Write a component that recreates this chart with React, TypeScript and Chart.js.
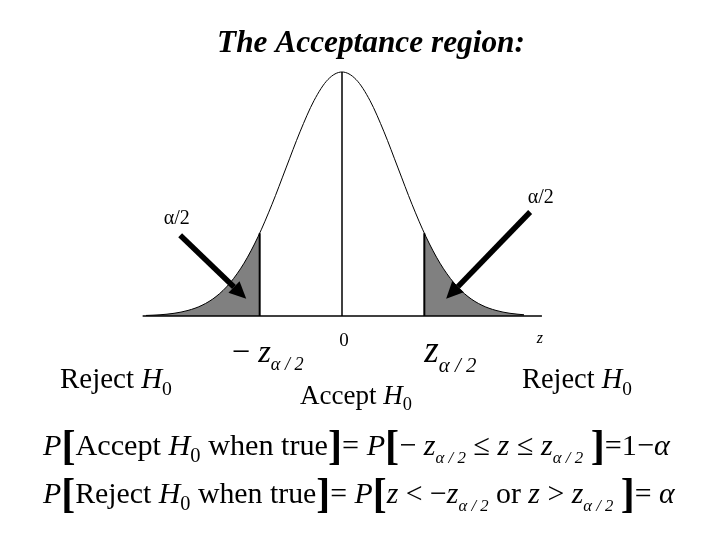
import React, { useEffect, useRef } from "react";
import { Chart, registerables } from "chart.js";
Chart.register(...registerables);

// Standard normal curve, read at z steps of 0.25
const zGrid = [-3.5, -3.25, -3, -2.75, -2.5, -2.25, -2, -1.75, -1.5, -1.25, -1, -0.75, -0.5, -0.25, 0, 0.25, 0.5, 0.75, 1, 1.25, 1.5, 1.75, 2, 2.25, 2.5, 2.75, 3, 3.25];
const density = [0.0009, 0.002, 0.0044, 0.0091, 0.0175, 0.0317, 0.054, 0.0863, 0.1295, 0.1826, 0.242, 0.3011, 0.3521, 0.3867, 0.3989, 0.3867, 0.3521, 0.3011, 0.242, 0.1826, 0.1295, 0.0863, 0.054, 0.0317, 0.0175, 0.0091, 0.0044, 0.002];
const criticalZ = 1.47;
const criticalDensity = 0.1354;
const peakDensity = 0.3989;
const axisStart = -3.56;
const axisEnd = 3.57;

// arrows [fromX, fromY, toX, toY] in data units
const leftArrow = [-2.89, 0.132, -1.71, 0.028];
const rightArrow = [3.36, 0.17, 1.86, 0.028];
const leftAlphaPos = [-2.95, 0.162];
const rightAlphaPos = [3.55, 0.196];

const TITLE = "The Acceptance region:";
type Seg = [string, string];
const alphaHalf: Seg[] = [["α/2", "n"]];
const rejectLabel: Seg[] = [["Reject ", "n"], ["H", "i"], ["0", "sub"]];
const acceptLabel: Seg[] = [["Accept ", "n"], ["H", "i"], ["0", "sub"]];
const negCrit: Seg[] = [["− ", "n"], ["z", "i"], ["α / 2", "subi"]];
const posCrit: Seg[] = [["z", "i"], ["α / 2", "subi"]];
const eq1: Seg[] = [["P", "i"], ["[", "br"], ["Accept ", "n"], ["H", "i"], ["0", "sub"], [" when true", "n"], ["]", "br"], ["= ", "n"], ["P", "i"], ["[", "br"], ["− ", "n"], ["z", "i"], ["α / 2", "subi"], [" ≤ ", "n"], ["z", "i"], [" ≤ ", "n"], ["z", "i"], ["α / 2", "subi"], [" ", "n"], ["]", "br"], ["=1−", "n"], ["α", "i"]];
const eq2: Seg[] = [["P", "i"], ["[", "br"], ["Reject ", "n"], ["H", "i"], ["0", "sub"], [" when true", "n"], ["]", "br"], ["= ", "n"], ["P", "i"], ["[", "br"], ["z", "i"], [" < −", "n"], ["z", "i"], ["α / 2", "subi"], [" or ", "n"], ["z", "i"], [" > ", "n"], ["z", "i"], ["α / 2", "subi"], [" ", "n"], ["]", "br"], ["= ", "n"], ["α", "i"]];

const SERIF = '"Liberation Serif", "Times New Roman", serif';

function segFont(kind: string, size: number) {
  switch (kind) {
    case "i": return { font: `italic ${size}px ${SERIF}`, dy: 0 };
    case "sub": return { font: `${size * 0.68}px ${SERIF}`, dy: size * 0.24 };
    case "subi": return { font: `italic ${size * 0.56}px ${SERIF}`, dy: size * 0.26 };
    case "br": return { font: `bold ${size * 1.4}px ${SERIF}`, dy: size * 0.13 };
    case "bi": return { font: `italic bold ${size}px ${SERIF}`, dy: 0 };
    default: return { font: `${size}px ${SERIF}`, dy: 0 };
  }
}

function measureRich(ctx: CanvasRenderingContext2D, segs: Seg[], size: number) {
  let w = 0;
  for (const [t, k] of segs) {
    ctx.font = segFont(k, size).font;
    w += ctx.measureText(t).width;
  }
  return w;
}

function drawRich(ctx: CanvasRenderingContext2D, segs: Seg[], x: number, y: number, size: number, align: string, fitWidth?: number) {
  let s = size;
  if (fitWidth) s = (size * fitWidth) / measureRich(ctx, segs, size);
  const w = measureRich(ctx, segs, s);
  let cx = align === "center" ? x - w / 2 : align === "right" ? x - w : x;
  ctx.textAlign = "left";
  ctx.textBaseline = "alphabetic";
  ctx.fillStyle = "#000";
  for (const [t, k] of segs) {
    const f = segFont(k, s);
    ctx.font = f.font;
    ctx.fillText(t, cx, y + f.dy);
    cx += ctx.measureText(t).width;
  }
}

function drawArrow(ctx: CanvasRenderingContext2D, x1: number, y1: number, x2: number, y2: number) {
  const ang = Math.atan2(y2 - y1, x2 - x1);
  const headLen = 17;
  const headW = 8;
  const bx = x2 - headLen * Math.cos(ang);
  const by = y2 - headLen * Math.sin(ang);
  ctx.save();
  ctx.strokeStyle = "#000";
  ctx.fillStyle = "#000";
  ctx.lineWidth = 5.5;
  ctx.beginPath();
  ctx.moveTo(x1, y1);
  ctx.lineTo(bx, by);
  ctx.stroke();
  ctx.beginPath();
  ctx.moveTo(x2, y2);
  ctx.lineTo(bx + headW * Math.sin(ang), by - headW * Math.cos(ang));
  ctx.lineTo(bx - headW * Math.sin(ang), by + headW * Math.cos(ang));
  ctx.closePath();
  ctx.fill();
  ctx.restore();
}

const annotations = {
  id: "annotations",
  afterDraw(chart: any) {
    const ctx: CanvasRenderingContext2D = chart.ctx;
    const xs = chart.scales.x;
    const ys = chart.scales.y;
    const px = (v: number) => xs.getPixelForValue(v);
    const py = (v: number) => ys.getPixelForValue(v);
    ctx.save();
    drawArrow(ctx, px(leftArrow[0]), py(leftArrow[1]), px(leftArrow[2]), py(leftArrow[3]));
    drawArrow(ctx, px(rightArrow[0]), py(rightArrow[1]), px(rightArrow[2]), py(rightArrow[3]));
    drawRich(ctx, alphaHalf, px(leftAlphaPos[0]), py(leftAlphaPos[1]) + 7, 20, "center");
    drawRich(ctx, alphaHalf, px(rightAlphaPos[0]), py(rightAlphaPos[1]) + 7, 20, "center");

    drawRich(ctx, [[TITLE, "bi"]], 371, 52, 28, "center", 308);

    drawRich(ctx, [["0", "n"]], px(0) + 2, 346, 19, "center");
    drawRich(ctx, [["z", "i"]], px(axisEnd) - 2, 343, 16, "center");
    drawRich(ctx, negCrit, px(-criticalZ) + 8, 362, 30, "center", 72);
    drawRich(ctx, posCrit, px(criticalZ) + 26, 362, 30, "center", 52);

    drawRich(ctx, rejectLabel, 60, 388, 26, "left", 112);
    drawRich(ctx, acceptLabel, 300, 404, 26, "left", 112);
    drawRich(ctx, rejectLabel, 522, 388, 26, "left", 110);

    drawRich(ctx, eq1, 43, 455, 28, "left", 627);
    drawRich(ctx, eq2, 43, 503, 28, "left", 632);
    ctx.restore();
  },
};

export default function App() {
  const ref = useRef<HTMLCanvasElement>(null);
  useEffect(() => {
    if (!ref.current) return;
    const curve = zGrid.map((z, i) => ({ x: z, y: density[i] }));
    const leftTail = [...curve.filter((p) => p.x <= -criticalZ), { x: -criticalZ, y: criticalDensity }];
    const rightTail = [{ x: criticalZ, y: criticalDensity }, ...curve.filter((p) => p.x >= criticalZ)];
    const vline = (x: number, top: number) => [{ x, y: 0 }, { x, y: top }];
    const lineDs = (data: any[], width: number) => ({
      data,
      borderColor: "#000",
      borderWidth: width,
      pointRadius: 0,
      fill: false,
      tension: 0,
    });
    const chart = new Chart(ref.current, {
      type: "line",
      data: {
        datasets: [
          { ...lineDs(curve, 1), tension: 0.4, cubicInterpolationMode: "monotone" as const },
          lineDs(vline(0, peakDensity), 1.5),
          lineDs(vline(-criticalZ, criticalDensity), 2),
          lineDs(vline(criticalZ, criticalDensity), 2),
          lineDs([{ x: axisStart, y: 0 }, { x: axisEnd, y: 0 }], 1.5),
          { data: leftTail, borderWidth: 0, borderColor: "rgba(0,0,0,0)", backgroundColor: "#808080", fill: "origin", pointRadius: 0, tension: 0.4, cubicInterpolationMode: "monotone" as const },
          { data: rightTail, borderWidth: 0, borderColor: "rgba(0,0,0,0)", backgroundColor: "#808080", fill: "origin", pointRadius: 0, tension: 0.4, cubicInterpolationMode: "monotone" as const },
        ],
      },
      options: {
        responsive: false,
        animation: false,
        layout: { padding: 0 },
        plugins: { legend: { display: false }, tooltip: { enabled: false }, title: { display: false } },
        scales: {
          x: { type: "linear", min: -342 / 56, max: 378 / 56, display: false },
          y: { type: "linear", min: -224 / 611.7, max: 316 / 611.7, display: false },
        },
      },
      plugins: [annotations],
    });
    return () => chart.destroy();
  }, []);
  return (
    <div style={{ position: "absolute", left: 0, top: 0, width: 720, height: 540, background: "#fff" }}>
      <canvas ref={ref} width={720} height={540} style={{ display: "block" }} />
    </div>
  );
}
